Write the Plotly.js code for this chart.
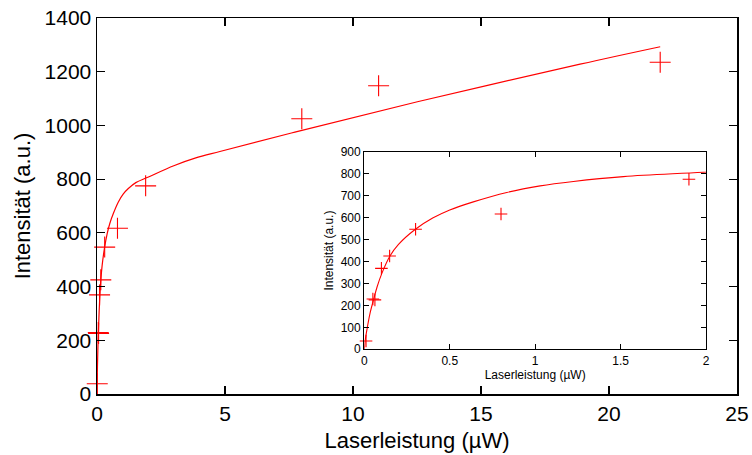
<!DOCTYPE html>
<html>
<head>
<meta charset="utf-8">
<script src="https://cdn.plot.ly/plotly-3.0.1.min.js"></script>
<style>html,body{margin:0;padding:0;background:#fff;}#chart{width:752px;height:455px;}</style>
</head>
<body>
<div id="chart"></div>
<script>
// Measured data (Laserleistung in µW, Intensität in a.u.)
const dataX = [0.01, 0.05, 0.062, 0.1, 0.148, 0.3, 0.8, 1.9, 8, 11, 22];
const dataY = [38, 229, 225, 369, 425, 547, 617, 775, 1025, 1148, 1235];

// Fit curve
const fitX = [0, 0.005, 0.018, 0.033, 0.053, 0.075, 0.102, 0.15, 0.2, 0.297, 0.4, 0.5, 0.638, 0.834, 1.029, 1.224, 1.516, 1.985, 3, 3.83, 4.8, 7.73, 12.6, 18.87, 22];
const fitY = [0, 40, 102, 163, 223, 285, 345, 425, 478, 546, 598, 635, 672, 715, 745, 765, 787, 807, 850, 878, 903, 975, 1090, 1228, 1293];

// Tick values
const mainXTicks = [0, 5, 10, 15, 20, 25];
const mainYTicks = [0, 200, 400, 600, 800, 1000, 1200, 1400];
const insetXTicks = [0, 0.5, 1, 1.5, 2];
const insetXLabels = ['0', '0.5', '1', '1.5', '2'];
const insetYTicks = [0, 100, 200, 300, 400, 500, 600, 700, 800, 900];

const xTitle = 'Laserleistung (µW)';
const yTitle = 'Intensität (a.u.)';

const red = '#ff0000';
const font = 'Liberation Sans, Arial, sans-serif';

// points that fall inside the inset's x range
const insetIdx = dataX.map((v, i) => i).filter(i => dataX[i] <= 2);
const insetDataX = insetIdx.map(i => dataX[i]);
const insetDataY = insetIdx.map(i => dataY[i]);

const traces = [
  {x: fitX, y: fitY, mode: 'lines', line: {color: red, width: 1.2, shape: 'spline', smoothing: 1}, xaxis: 'x', yaxis: 'y', hoverinfo: 'skip'},
  {x: dataX, y: dataY, mode: 'markers', cliponaxis: false, marker: {symbol: 'cross-thin-open', size: 15, color: red, line: {color: red, width: 1.1}}, xaxis: 'x', yaxis: 'y'},
  {x: fitX, y: fitY, mode: 'lines', line: {color: red, width: 1.1, shape: 'spline', smoothing: 1}, xaxis: 'x2', yaxis: 'y2', hoverinfo: 'skip'},
  {x: insetDataX, y: insetDataY, mode: 'markers', cliponaxis: false, marker: {symbol: 'cross-thin-open', size: 9, color: red, line: {color: red, width: 1.1}}, xaxis: 'x2', yaxis: 'y2'}
];

const mainAxis = {
  showgrid: false, zeroline: false, showline: true, linecolor: '#000', linewidth: 1.5,
  mirror: 'allticks', ticks: 'inside', ticklen: 8, tickcolor: '#000', tickwidth: 1.2,
  tickfont: {family: font, size: 21, color: '#000'}
};
const insetAxis = {
  showgrid: false, zeroline: false, showline: true, linecolor: '#000', linewidth: 1.2,
  mirror: 'allticks', ticks: 'inside', ticklen: 5, tickcolor: '#000', tickwidth: 1,
  tickfont: {family: font, size: 12, color: '#000'}
};

const layout = {
  width: 752, height: 455,
  margin: {l: 97, r: 15, t: 18, b: 61},
  paper_bgcolor: '#fff', plot_bgcolor: 'rgba(0,0,0,0)',
  showlegend: false,
  font: {family: font, color: '#000'},
  xaxis: Object.assign({}, mainAxis, {range: [0, 25], tickvals: mainXTicks, domain: [0, 1], anchor: 'y',
    title: {text: xTitle, font: {family: font, size: 22, color: '#000'}, standoff: 9}}),
  yaxis: Object.assign({}, mainAxis, {range: [0, 1400], tickvals: mainYTicks, domain: [0, 1], anchor: 'x',
    title: {text: yTitle, font: {family: font, size: 22, color: '#000'}, standoff: 8}}),
  xaxis2: Object.assign({}, insetAxis, {range: [0, 2], tickvals: insetXTicks, ticktext: insetXLabels, domain: [0.4177, 0.9516], anchor: 'y2',
    title: {text: xTitle, font: {family: font, size: 12, color: '#000'}, standoff: 2}}),
  yaxis2: Object.assign({}, insetAxis, {range: [0, 900], tickvals: insetYTicks, domain: [0.119, 0.644], anchor: 'x2',
    title: {text: yTitle, font: {family: font, size: 12, color: '#000'}, standoff: 4}})
};

Plotly.newPlot('chart', traces, layout, {staticPlot: true, displayModeBar: false});
</script>
</body>
</html>
